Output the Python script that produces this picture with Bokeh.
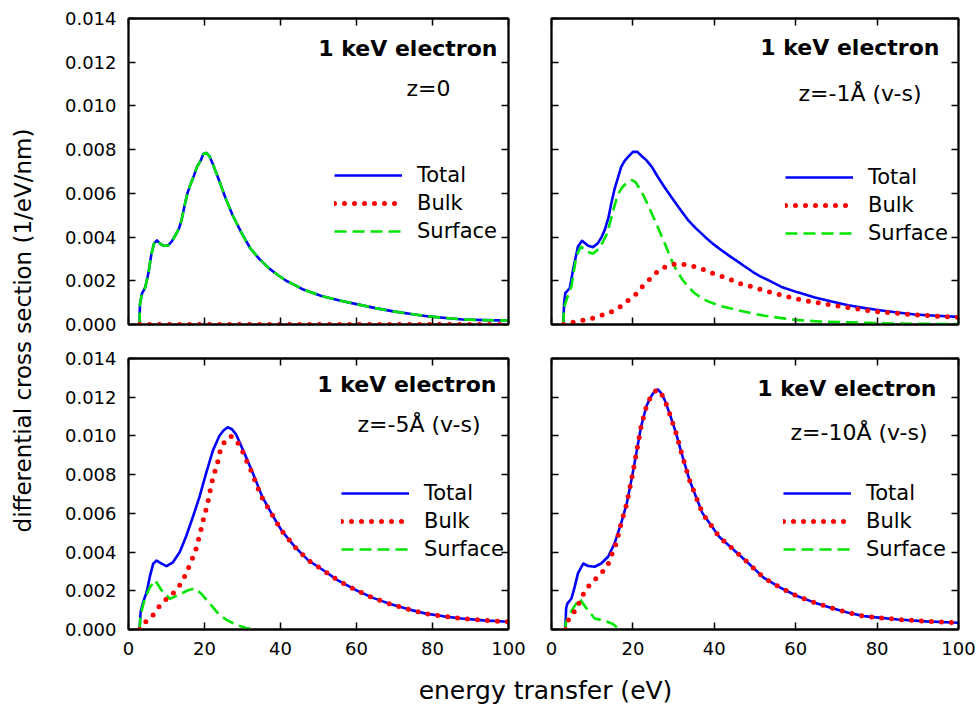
from bokeh.plotting import figure
from bokeh.models import Range1d, LinearAxis, Label, Legend, LegendItem, FixedTicker, NumeralTickFormatter
from bokeh.layouts import row, column
from bokeh.embed import file_html
from bokeh.resources import INLINE

FONT = "DejaVu Sans"

x_ticks = [0, 20, 40, 60, 80, 100]
y_ticks = [0.0, 0.002, 0.004, 0.006, 0.008, 0.010, 0.012, 0.014]

# ---------------- data: z = 0 ----------------
tl_total_x = [2.9, 3.0, 3.5, 4.4, 5.3, 6.0, 6.7, 7.5, 8.3, 9.3, 10.3, 11.4, 12.4, 13.3, 14.0, 14.7, 15.5,
              16.3, 17.2, 18.0, 19.0, 19.7, 20.5, 21.3, 22.3, 23.6, 25.5, 27.4, 29.7, 32.0, 34.4, 36.8,
              39.0, 41.5, 43.8, 46.0, 48.4, 50.8, 55.5, 60.3, 65.0, 69.7, 74.4, 79.0, 83.5, 88.0, 94.0, 100]
tl_total_y = [0, 0.0009, 0.0014, 0.0017, 0.0024, 0.0032, 0.0037, 0.00385, 0.0037, 0.0036, 0.0036, 0.0038,
              0.0041, 0.0044, 0.0048, 0.0054, 0.0060, 0.0064, 0.0068, 0.0072, 0.0075, 0.0078, 0.00785,
              0.0077, 0.0073, 0.0067, 0.0058, 0.0050, 0.0042, 0.0035, 0.0030, 0.0026, 0.0023, 0.0020,
              0.0018, 0.0016, 0.00145, 0.0013, 0.0011, 0.00092, 0.00075, 0.0006, 0.00048, 0.00037,
              0.0003, 0.00023, 0.0002, 0.00018]
tl_surf_x = list(tl_total_x)
tl_surf_y = list(tl_total_y)
tl_bulk_x = [2.9, 100]
tl_bulk_y = [0.0, 0.0]

# ---------------- data: z = -1 A ----------------
tr_total_x = [2.9, 3.1, 3.4, 4.5, 5.3, 6.5, 7.5, 9.0, 10.2, 11.4, 12.3, 13.1, 14.0, 14.7, 15.5, 16.3, 17.1,
              18.0, 19.0, 20.0, 21.1, 22.2, 23.3, 24.7, 26.1, 27.7, 29.4, 31.5, 33.5, 35.5, 37.6, 39.6,
              41.6, 43.6, 45.7, 47.6, 49.5, 51.3, 53.0, 56.5, 60.5, 64.7, 68.8, 72.9, 77.0, 81.1, 85.0,
              89.3, 94.5, 100]
tr_total_y = [0, 0.0010, 0.00144, 0.00167, 0.00251, 0.00357, 0.00383, 0.0036, 0.00354, 0.00372, 0.0040,
              0.00433, 0.0049, 0.00555, 0.0062, 0.0067, 0.0072, 0.0075, 0.0077, 0.0079, 0.0079, 0.0077,
              0.00752, 0.0072, 0.00676, 0.0063, 0.00585, 0.0053, 0.00479, 0.0044, 0.00403, 0.0037,
              0.00342, 0.00315, 0.00289, 0.00264, 0.0024, 0.0022, 0.00205, 0.00172, 0.00147, 0.00124,
              0.00105, 0.00088, 0.00075, 0.00064, 0.00055, 0.00046, 0.0004, 0.00035]
tr_surf_x = [2.9, 3.1, 3.7, 4.9, 6.1, 7.2, 8.6, 10.2, 11.8, 13.5, 14.3, 15.1, 15.9, 16.7, 17.5, 18.4, 19.8,
             20.7, 21.6, 22.6, 23.7, 25.7, 27.8, 29.8, 31.0, 32.2, 33.6, 35.1, 36.7, 38.4, 41.6, 45.7,
             49.0, 52.4, 56.5, 60.6, 66.0, 72.9, 80.0, 89.0, 100]
tr_surf_y = [0, 0.0008, 0.00114, 0.00175, 0.00312, 0.00357, 0.00334, 0.00324, 0.0035, 0.0041, 0.0046,
             0.00517, 0.0057, 0.00608, 0.0063, 0.00646, 0.00661, 0.0065, 0.00623, 0.0059, 0.00547,
             0.00464, 0.00372, 0.00281, 0.0024, 0.00205, 0.00172, 0.00144, 0.00123, 0.00106, 0.00084,
             0.00066, 0.00052, 0.0004, 0.00029, 0.0002, 0.00014, 0.0001, 0.00006, 0.00003, 0.00002]
tr_bulk_x = [2.9, 5.3, 8.0, 10.4, 12.9, 15.1, 17.1, 18.9, 20.8, 22.7, 24.5, 26.5, 29.2, 31.7, 34.1, 36.6,
             38.8, 41.2, 44.1, 46.4, 48.8, 54.0, 58.9, 63.9, 68.8, 74.1, 79.4, 84.3, 89.7, 94.0, 100]
tr_bulk_y = [0, 0.0001, 0.0002, 0.0003, 0.00046, 0.00061, 0.00084, 0.00111, 0.0014, 0.00182, 0.00213,
             0.00251, 0.00274, 0.00278, 0.00269, 0.00258, 0.00239, 0.00225, 0.00205, 0.00187, 0.00175,
             0.00146, 0.00123, 0.00104, 0.00089, 0.00074, 0.0006, 0.00052, 0.00044, 0.00039, 0.00033]

# ---------------- data: z = -5 A ----------------
bl_total_x = [2.9, 3.2, 3.9, 4.8, 5.7, 6.5, 7.4, 8.7, 10.0, 11.7, 13.5, 15.2, 17.0, 18.7, 20.4, 22.2, 23.9,
              25.0, 26.1, 27.2, 28.3, 29.3, 30.4, 32.6, 35.2, 37.8, 40.4, 43.9, 47.4, 50.7, 55.0, 59.9,
              64.5, 69.1, 73.7, 78.3, 83.0, 87.6, 93.5, 100]
bl_total_y = [0, 0.00093, 0.00144, 0.00195, 0.0028, 0.0034, 0.00356, 0.0034, 0.00327, 0.00347, 0.004,
              0.00483, 0.00585, 0.00686, 0.00805, 0.00924, 0.0100, 0.01028, 0.01045, 0.01035, 0.01008,
              0.00965, 0.00915, 0.00814, 0.00686, 0.00593, 0.00508, 0.00424, 0.00356, 0.00314, 0.00255,
              0.00203, 0.00162, 0.0013, 0.00104, 0.00082, 0.00068, 0.00057, 0.00047, 0.0004]
bl_bulk_x = [2.9, 4.5, 6.3, 8.1, 10.0, 12.4, 14.1, 15.4, 16.6, 17.7, 18.5, 19.2, 19.9, 20.7, 21.3, 21.9,
             22.7, 23.5, 24.2, 25.0, 25.7, 27.0, 28.1, 29.7, 31.1, 32.4, 33.5, 35.0, 37.8, 40.4, 43.9,
             47.4, 50.7, 55.0, 59.9, 64.5, 69.1, 73.7, 78.3, 83.0, 87.6, 93.5, 100]
bl_bulk_y = [0, 0.00039, 0.00071, 0.00119, 0.00158, 0.00198, 0.00246, 0.003, 0.00356, 0.00412, 0.00471,
             0.00525, 0.00585, 0.0064, 0.00698, 0.00758, 0.00814, 0.00868, 0.00929, 0.0096, 0.00982,
             0.00998, 0.00985, 0.00935, 0.0087, 0.00814, 0.00758, 0.00686, 0.00593, 0.00508, 0.00424,
             0.00356, 0.00314, 0.00255, 0.00203, 0.00162, 0.0013, 0.00104, 0.00082, 0.00068, 0.00057,
             0.00047, 0.0004]
bl_surf_x = [2.9, 3.2, 4.3, 5.7, 7.0, 8.7, 10.9, 13.5, 15.7, 17.4, 19.1, 21.3, 23.5, 25.7, 28.3, 30.9, 33.5]
bl_surf_y = [0, 0.00076, 0.00161, 0.0022, 0.00254, 0.00203, 0.00158, 0.00181, 0.00203, 0.00212, 0.00186,
             0.00136, 0.00085, 0.00051, 0.00025, 0.00008, 0.0]

# ---------------- data: z = -10 A ----------------
br_total_x = [3.4, 3.6, 3.9, 4.9, 5.7, 6.5, 7.8, 9.0, 10.6, 12.2, 13.9, 15.5, 17.1, 18.5, 19.8, 21.0, 22.0,
              23.3, 24.1, 24.9, 25.5, 26.1, 26.9, 27.8, 29.0, 30.6, 32.2, 33.9, 35.5, 37.1, 39.5, 41.2,
              44.6, 48.2, 52.1, 56.2, 60.3, 64.5, 68.6, 72.7, 76.8, 81.0, 85.1, 92.0, 100]
br_total_y = [0, 0.0011, 0.00134, 0.0016, 0.0022, 0.0029, 0.00341, 0.00328, 0.00324, 0.00341, 0.00376,
              0.00445, 0.00548, 0.00652, 0.0079, 0.00928, 0.01048, 0.01152, 0.0119, 0.01218, 0.01232,
              0.0124, 0.01222, 0.01186, 0.01117, 0.01014, 0.00893, 0.00772, 0.00686, 0.006, 0.0053,
              0.00479, 0.00415, 0.00346, 0.00268, 0.00216, 0.00173, 0.0014, 0.00112, 0.00088, 0.00069,
              0.0006, 0.00052, 0.00042, 0.00035]
br_bulk_x = [3.4, 4.3, 5.9, 8.4, 10.2, 12.1, 13.9, 14.9, 15.9, 17.1, 18.5, 19.8, 21.0, 22.0, 23.3, 24.1,
             24.9, 25.5, 26.1, 26.9, 27.8, 29.0, 30.6, 32.2, 33.9, 35.5, 37.1, 39.5, 41.2, 44.6, 48.2,
             52.1, 56.2, 60.3, 64.5, 68.6, 72.7, 76.8, 81.0, 85.1, 92.0, 100]
br_bulk_y = [0, 0.00057, 0.001, 0.00207, 0.0025, 0.00286, 0.00336, 0.00393, 0.00445, 0.00548, 0.00652,
             0.0079, 0.00928, 0.01048, 0.01152, 0.0119, 0.01218, 0.01232, 0.0124, 0.01222, 0.01186,
             0.01117, 0.01014, 0.00893, 0.00772, 0.00686, 0.006, 0.0053, 0.00479, 0.00415, 0.00346,
             0.00268, 0.00216, 0.00173, 0.0014, 0.00112, 0.00088, 0.00069, 0.0006, 0.00052, 0.00042,
             0.00035]
br_surf_x = [3.4, 3.6, 4.1, 5.3, 6.9, 8.6, 10.6, 13.1, 15.1, 16.7]
br_surf_y = [0, 0.0004, 0.00066, 0.00109, 0.0016, 0.00109, 0.00057, 0.00045, 0.00028, 0.0]

title_text = "1 keV electron"
z_texts = ["z=0", "z=-1Å  (v-s)", "z=-5Å (v-s)", "z=-10Å  (v-s)"]
series_names = ["Total", "Bulk", "Surface"]

BLUE = "#0000ff"
RED = "#ff0000"
GREEN = "#00e600"


def style_axis(ax, show_labels):
    ax.major_tick_in = 7
    ax.major_tick_out = 0
    ax.major_tick_line_width = 1.5
    ax.major_tick_line_color = "black"
    ax.minor_tick_line_color = None
    ax.axis_line_color = "black"
    ax.axis_line_width = 1.8
    ax.major_label_text_font = FONT
    ax.major_label_standoff = 12
    if show_labels:
        ax.major_label_text_font_size = "18px"
        ax.major_label_text_color = "black"
    else:
        ax.major_label_text_font_size = "2px"
        ax.major_label_text_color = None
        ax.major_label_standoff = 0


def panel(fw, fh, bl, br, bt, bb, show_x, show_y, data, z_text, title_pos, z_pos, legend_loc):
    p = figure(frame_width=fw, frame_height=fh, x_range=Range1d(0, 100), y_range=Range1d(0, 0.014),
               output_backend="svg", toolbar_location=None,
               min_border_left=bl, min_border_right=br, min_border_top=bt, min_border_bottom=bb)
    p.grid.visible = False
    p.outline_line_color = "black"
    p.outline_line_width = 1.8
    p.background_fill_color = "white"
    p.border_fill_color = "white"

    xb = p.xaxis[0]
    yl = p.yaxis[0]
    xb.ticker = FixedTicker(ticks=x_ticks)
    yl.ticker = FixedTicker(ticks=y_ticks)
    yl.formatter = NumeralTickFormatter(format="0.000")
    style_axis(xb, show_x)
    style_axis(yl, show_y)
    xt = LinearAxis(ticker=FixedTicker(ticks=x_ticks))
    yr = LinearAxis(ticker=FixedTicker(ticks=y_ticks))
    style_axis(xt, False)
    style_axis(yr, False)
    p.add_layout(xt, "above")
    p.add_layout(yr, "right")

    (tx, ty), (bx, by), (sx, sy) = data
    r_t = p.line(tx, ty, line_color=BLUE, line_width=2.6, line_join="round")
    r_s = p.line(sx, sy, line_color=GREEN, line_width=2.6, line_dash="12 6")
    r_b = p.line(bx, by, line_color=RED, line_width=5, line_dash="0 10", line_cap="round")

    def fx(dx):
        return dx / fw * 100.0

    def fy(dy):
        return (fh - dy) / fh * 0.014

    p.add_layout(Label(x=fx(title_pos[0]), y=fy(title_pos[1]), text=title_text, text_align="right",
                       text_baseline="middle", text_font=FONT, text_font_size="22px",
                       text_font_style="bold", text_color="black"))
    p.add_layout(Label(x=fx(z_pos[0]), y=fy(z_pos[1]), text=z_text, text_align="right",
                       text_baseline="middle", text_font=FONT, text_font_size="22px",
                       text_color="black"))

    leg = Legend(items=[LegendItem(label=series_names[0], renderers=[r_t]),
                        LegendItem(label=series_names[1], renderers=[r_b]),
                        LegendItem(label=series_names[2], renderers=[r_s])],
                 location=legend_loc, orientation="vertical",
                 label_text_font=FONT, label_text_font_size="21px", label_text_color="black",
                 glyph_width=68, glyph_height=28, label_height=28, spacing=0, padding=0, margin=0,
                 label_standoff=15, border_line_color=None, background_fill_alpha=0)
    p.add_layout(leg)
    return p


tl = panel(380, 306, 78, 21, 18, 17, False, True,
           ((tl_total_x, tl_total_y), (tl_bulk_x, tl_bulk_y), (tl_surf_x, tl_surf_y)),
           z_texts[0], (369, 30), (322, 70), (206, 79))
tr = panel(407, 306, 22, 19, 18, 17, False, False,
           ((tr_total_x, tr_total_y), (tr_bulk_x, tr_bulk_y), (tr_surf_x, tr_surf_y)),
           z_texts[1], (388, 29), (377, 75), (234, 77))
bl = panel(380, 271, 78, 21, 17, 36, True, True,
           ((bl_total_x, bl_total_y), (bl_bulk_x, bl_bulk_y), (bl_surf_x, bl_surf_y)),
           z_texts[2], (368, 26), (352, 66), (213, 66))
br = panel(407, 271, 22, 19, 17, 36, True, False,
           ((br_total_x, br_total_y), (br_bulk_x, br_bulk_y), (br_surf_x, br_surf_y)),
           z_texts[3], (385, 30), (383, 74), (232, 66))


def blank(w, h):
    f = figure(width=w, height=h, x_range=Range1d(0, w), y_range=Range1d(0, h),
               output_backend="svg", toolbar_location=None, min_border=0,
               x_axis_location=None, y_axis_location=None)
    f.grid.visible = False
    f.outline_line_color = None
    f.background_fill_color = "white"
    f.border_fill_color = "white"
    return f


ylab = blank(50, 707)
ylab.add_layout(Label(x=22, y=707 - 330, text="differential cross section (1/eV/nm)", angle=90,
                      angle_units="deg", text_align="center", text_baseline="middle",
                      text_font=FONT, text_font_size="23px", text_color="black"))
xlab = blank(927, 42)
xlab.add_layout(Label(x=495, y=17, text="energy transfer (eV)", text_align="center",
                      text_baseline="middle", text_font=FONT, text_font_size="25px",
                      text_color="black"))

layout = row(ylab, column(row(tl, tr), row(bl, br), xlab))

open("out.html", "w").write(file_html(layout, INLINE))
